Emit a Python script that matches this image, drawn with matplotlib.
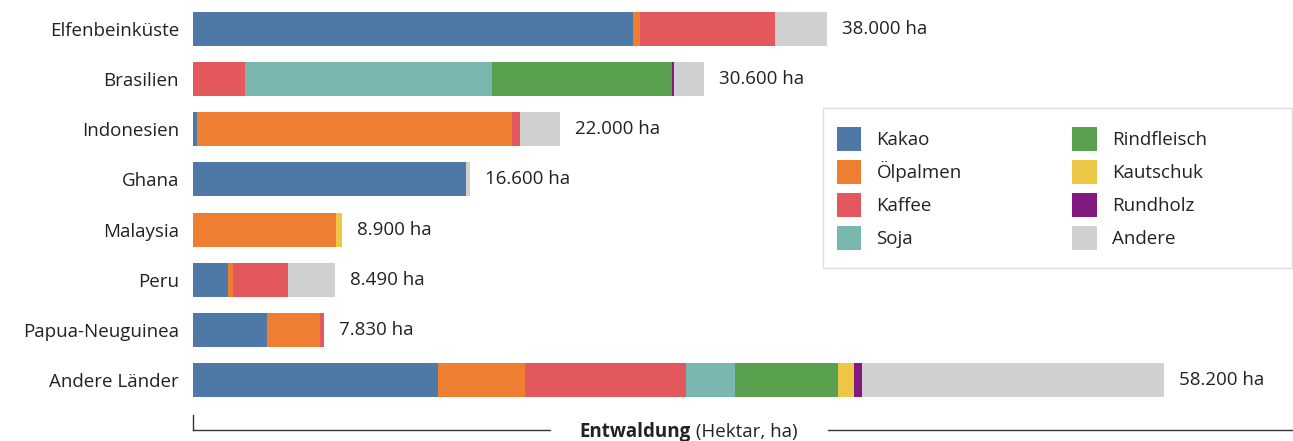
import matplotlib
matplotlib.use("Agg")
import matplotlib.pyplot as plt
from matplotlib.patches import Patch, Rectangle
from matplotlib.lines import Line2D

countries = ["Elfenbeinküste", "Brasilien", "Indonesien", "Ghana", "Malaysia",
             "Peru", "Papua-Neuguinea", "Andere Länder"]
totals = [38000, 30600, 22000, 16600, 8900, 8490, 7830, 58200]

commodities = ["Kakao", "Ölpalmen", "Kaffee", "Soja", "Rindfleisch", "Kautschuk", "Rundholz", "Andere"]
kakao       = [26380,   0,   240, 16360,    0, 2100, 4450, 14690]
oelpalmen   = [  400,   0, 18900,     0, 8570,  300, 3140,  5190]
kaffee      = [ 8060, 3130,  480,     0,    0, 3290,  240,  9630]
soja        = [    0, 14780,   0,     0,    0,    0,    0,  2940]
rindfleisch = [    0, 10780,   0,     0,    0,    0,    0,  6190]
kautschuk   = [    0,    0,    0,     0,  330,    0,    0,   950]
rundholz    = [    0,  130,    0,     0,    0,    0,    0,   460]
andere      = [ 3160, 1780, 2380,   240,    0, 2800,    0, 18150]

series = [kakao, oelpalmen, kaffee, soja, rindfleisch, kautschuk, rundholz, andere]
colors = ["#4e79a7", "#ee7f32", "#e3585c", "#7ab7b1", "#59a14f", "#ecc846", "#821a80", "#cfd0cf"]

plt.rcParams['font.family'] = ['Open Sans', 'DejaVu Sans']
txt = "#222222"
FS = 13.5

W, H = 1293, 441
fig = plt.figure(figsize=(W/100, H/100), dpi=100)
ax = fig.add_axes([193/W, 1 - 405/H, 1100/W, 401/H])

y = list(range(len(countries)))
left = [0]*len(countries)
for vals, c in zip(series, colors):
    ax.barh(y, vals, left=left, height=0.68, color=c, linewidth=0)
    left = [l + v for l, v in zip(left, vals)]

for i, t in enumerate(totals):
    lab = f"{t:,}".replace(",", ".") + " ha"
    ax.text(t + 900, i, lab, va="center", ha="left", fontsize=FS, color=txt)

ax.set_xlim(0, 65900)
ax.set_ylim(len(countries) - 0.5, -0.5)
ax.set_yticks(y)
ax.set_yticklabels(countries, fontsize=FS, color=txt)
ax.tick_params(axis="y", length=0, pad=10)
ax.set_xticks([])
for s in ax.spines.values():
    s.set_visible(False)

# bottom bracket axis
fy = 1 - 430/H
lc = "#333333"
fig.add_artist(Line2D([193/W, 550/W], [fy, fy], color=lc, lw=1.0))
fig.add_artist(Line2D([828/W, 1.0], [fy, fy], color=lc, lw=1.0))
fig.add_artist(Line2D([193/W, 193/W], [fy, 1 - 415/H], color=lc, lw=1.0))
fig.text(691/W, 1 - 432/H, "Entwaldung", ha="right", va="center",
         fontsize=FS, fontweight="bold", color=txt)
fig.text(691/W, 1 - 432/H, " (Hektar, ha)", ha="left", va="center",
         fontsize=FS, color=txt)

# legend frame
fig.add_artist(Rectangle((822.5/W, 1 - 267.5/H), 469.5/W, 160/H, transform=fig.transFigure,
                         facecolor="white", edgecolor="#dddddd", lw=1.0, zorder=1))
handles = [Patch(facecolor=c, edgecolor="none") for c in colors]
leg = fig.legend(handles, commodities, ncol=2, loc="upper left",
                 bbox_to_anchor=(837/W, 1 - 127/H), frameon=False,
                 fontsize=FS, handlelength=1.3, handleheight=1.6,
                 handletextpad=0.8, columnspacing=5.9, labelspacing=0.48,
                 borderpad=0, borderaxespad=0, labelcolor=txt)
leg.set_zorder(2)

fig.savefig("out.png", dpi=100)
